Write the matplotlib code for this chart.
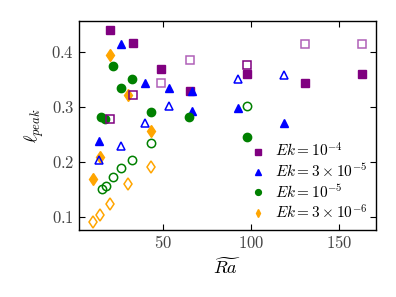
import numpy as np
import matplotlib
matplotlib.use('Agg')
import matplotlib.pyplot as plt
from matplotlib.ticker import FuncFormatter

plt.rcParams['mathtext.fontset'] = 'cm'
plt.rcParams['font.family'] = 'serif'
plt.rcParams['font.serif'] = ['DejaVu Serif']

# Ek = 1e-4
sq_x = [19.5, 32.6, 48.9, 65.3, 97.9, 130.5, 163.0]
sq_y = [0.439, 0.416, 0.368, 0.329, 0.359, 0.343, 0.359]
sq_open_dark_x = [19.5, 32.6, 97.9]
sq_open_dark_y = [0.277, 0.322, 0.376]
sq_open_light_x = [48.9, 65.3, 130.5, 163.0]
sq_open_light_y = [0.344, 0.385, 0.415, 0.415]

# Ek = 3e-5
tri_x = [13.2, 26.1, 39.8, 53.0, 66.3, 66.3, 92.8, 118.9]
tri_y = [0.238, 0.414, 0.343, 0.335, 0.328, 0.292, 0.297, 0.271]
tri_open_x = [13.2, 26.1, 39.8, 53.0, 92.8, 118.9]
tri_open_y = [0.204, 0.229, 0.271, 0.302, 0.350, 0.358]

# Ek = 1e-5
circ_x = [14.8, 16.6, 21.4, 25.7, 32.2, 43.0, 64.8, 97.5]
circ_y = [0.282, 0.277, 0.375, 0.335, 0.350, 0.291, 0.282, 0.245]
circ_open_x = [15.0, 17.4, 21.4, 26.0, 32.2, 43.0, 97.5]
circ_open_y = [0.150, 0.156, 0.172, 0.189, 0.204, 0.235, 0.302]

# Ek = 3e-6
dia_x = [9.8, 13.8, 19.9, 29.9, 43.0]
dia_y = [0.168, 0.208, 0.394, 0.321, 0.256]
dia_open_x = [9.8, 13.8, 19.9, 29.9, 43.2]
dia_open_y = [0.091, 0.104, 0.124, 0.159, 0.191]

fig = plt.figure(figsize=(3.96, 2.97), dpi=100)
ax = fig.add_axes([0.1995, 0.2256, 0.7495, 0.7034])

ms = 6
ax.plot(sq_x, sq_y, 's', ms=ms, color='purple', ls='none', label=r'$Ek=10^{-4}$')
ax.plot(tri_x, tri_y, '^', ms=ms, color='blue', ls='none', label=r'$Ek=3\times10^{-5}$')
ax.plot(circ_x, circ_y, 'o', ms=ms, color='green', ls='none', label=r'$Ek=10^{-5}$')
ax.plot(dia_x, dia_y, 'd', ms=ms, color='orange', ls='none', label=r'$Ek=3\times10^{-6}$')

ax.plot(sq_open_light_x, sq_open_light_y, 's', ms=ms, mfc='none', mec='#b060b8', mew=1.1, ls='none')
ax.plot(sq_open_dark_x, sq_open_dark_y, 's', ms=ms, mfc='none', mec='#800080', mew=1.1, ls='none')
ax.plot(tri_open_x, tri_open_y, '^', ms=ms, mfc='none', mec='blue', mew=1.1, ls='none')
ax.plot(circ_open_x, circ_open_y, 'o', ms=ms, mfc='none', mec='green', mew=1.1, ls='none')
ax.plot(dia_open_x, dia_open_y, 'd', ms=ms, mfc='none', mec='orange', mew=1.1, ls='none')

ax.set_xlim(2, 171)
ax.set_ylim(0.076, 0.456)
ax.set_xticks([50, 100, 150])
ax.set_yticks([0.1, 0.2, 0.3, 0.4])
fmt = FuncFormatter(lambda v, p: r'$%g$' % v)
ax.xaxis.set_major_formatter(fmt)
ax.yaxis.set_major_formatter(fmt)
ax.tick_params(direction='in', top=True, right=True, labelsize=12, length=4, labelcolor='#444444')
for s in ax.spines.values():
    s.set_linewidth(1)

ax.set_xlabel(r'$\widetilde{Ra}$', fontsize=13)
ax.set_ylabel(r'$\ell_{peak}$', fontsize=13)

ax.legend(loc='lower right', frameon=False, fontsize=11,
          markerscale=0.7, handlelength=1.2, handletextpad=0.5, labelspacing=0.18,
          borderaxespad=0.15)

fig.savefig('out.png', dpi=100)
